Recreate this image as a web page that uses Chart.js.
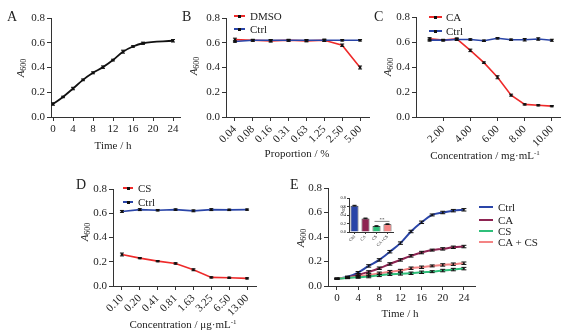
<!DOCTYPE html>
<html>
<head>
<meta charset="utf-8">
<script src="https://cdn.jsdelivr.net/npm/chart.js@4.4.1/dist/chart.umd.min.js"></script>
<style>
body { margin: 0; background: #fff; width: 573px; height: 334px; position: relative; overflow: hidden; font-family: "Liberation Serif", serif; color: #222; }
canvas { position: absolute; left: 0; top: 0; }
.t { position: absolute; white-space: nowrap; font-size: 11px; line-height: 1; }
.letter { font-size: 14px; transform: translateY(-50%); }
.xlab { transform: translate(-50%, -50%); }
.ylab { transform: translate(-50%, -50%) rotate(-90deg); }
.ylab sub { font-size: 8px; vertical-align: -2px; }
.xlab sup { font-size: 7px; vertical-align: 4px; }
.leg { position: absolute; font-size: 11px; line-height: 1; white-space: nowrap; transform: translateY(-50%); }
.ln { position: absolute; height: 2px; }
.ln.mk::after { content: ""; position: absolute; left: 50%; top: 50%; width: 3px; height: 3px; margin: -1.5px 0 0 -1.5px; background: #111; }
</style>
</head>
<body>
<canvas id="cA" width="573" height="334"></canvas>
<canvas id="cB" width="573" height="334"></canvas>
<canvas id="cC" width="573" height="334"></canvas>
<canvas id="cD" width="573" height="334"></canvas>
<canvas id="cE" width="573" height="334"></canvas>
<canvas id="cIn" width="573" height="334"></canvas>

<!-- panel letters -->
<div class="t letter" style="left:7px;top:17px">A</div>
<div class="t letter" style="left:182px;top:17px">B</div>
<div class="t letter" style="left:374px;top:17px">C</div>
<div class="t letter" style="left:76px;top:185px">D</div>
<div class="t letter" style="left:290px;top:185px">E</div>

<!-- y titles -->
<div class="t ylab" style="left:21px;top:68px"><i>A</i><sub>600</sub></div>
<div class="t ylab" style="left:194px;top:66px"><i>A</i><sub>600</sub></div>
<div class="t ylab" style="left:388px;top:67px"><i>A</i><sub>600</sub></div>
<div class="t ylab" style="left:85px;top:232px"><i>A</i><sub>600</sub></div>
<div class="t ylab" style="left:301px;top:238px"><i>A</i><sub>600</sub></div>
<div class="t ylab" style="left:343px;top:210px;font-size:5px"><i>A</i><sub style="font-size:4px;vertical-align:-1px">600</sub></div>

<!-- x titles -->
<div class="t xlab" style="left:113px;top:145px">Time / h</div>
<div class="t xlab" style="left:297px;top:153px">Proportion / %</div>
<div class="t xlab" style="left:485px;top:155px">Concentration / mg·mL<sup>-1</sup></div>
<div class="t xlab" style="left:183px;top:324px">Concentration / μg·mL<sup>-1</sup></div>
<div class="t xlab" style="left:400px;top:313px">Time / h</div>

<!-- legends -->
<div class="leg" style="left:250px;top:16px">DMSO</div><div class="ln mk" style="left:234px;top:15px;width:11px;background:#ee2a2a"></div>
<div class="leg" style="left:250px;top:29px">Ctrl</div><div class="ln mk" style="left:234px;top:28px;width:11px;background:#2a45a8"></div>
<div class="leg" style="left:446px;top:17px">CA</div><div class="ln mk" style="left:429px;top:16px;width:13px;background:#ee2a2a"></div>
<div class="leg" style="left:446px;top:31px">Ctrl</div><div class="ln mk" style="left:429px;top:30px;width:13px;background:#2a45a8"></div>
<div class="leg" style="left:138px;top:188px">CS</div><div class="ln mk" style="left:123px;top:187px;width:10px;background:#ee2a2a"></div>
<div class="leg" style="left:138px;top:202px">Ctrl</div><div class="ln mk" style="left:123px;top:201px;width:10px;background:#2a45a8"></div>
<div class="leg" style="left:498px;top:207px">Ctrl</div><div class="ln" style="left:479px;top:206px;width:14px;background:#2a45a8"></div>
<div class="leg" style="left:498px;top:220px">CA</div><div class="ln" style="left:479px;top:219px;width:14px;background:#8e2452"></div>
<div class="leg" style="left:498px;top:231px">CS</div><div class="ln" style="left:479px;top:230px;width:14px;background:#2fbf7a"></div>
<div class="leg" style="left:498px;top:242px">CA + CS</div><div class="ln" style="left:479px;top:241px;width:14px;background:#f48484"></div>

<script>
// ---- data ----
const yTicks = [0, 0.2, 0.4, 0.6, 0.8];
const timeTicks = [0, 4, 8, 12, 16, 20, 24];

// A: growth curve
const timeA = [0, 2, 4, 6, 8, 10, 12, 14, 16, 18, 24];
const growthA = [0.105, 0.162, 0.23, 0.30, 0.357, 0.403, 0.46, 0.528, 0.57, 0.596, 0.616];
const growthAErr = [0.01, 0.006, 0.01, 0.007, 0.008, 0.01, 0.007, 0.012, 0.006, 0.009, 0.01];

// B: DMSO proportion
const proportionLabels = ['0.04', '0.08', '0.16', '0.31', '0.63', '1.25', '2.50', '5.00'];
const dmsoValues = [0.625, 0.62, 0.615, 0.62, 0.615, 0.62, 0.58, 0.40];
const dmsoCtrl = [0.61, 0.62, 0.62, 0.62, 0.62, 0.62, 0.62, 0.62];
const dmsoErr = [0.012, 0.008, 0.01, 0.008, 0.008, 0.01, 0.01, 0.012];

// C: CA concentration (mg/mL)
const caConc = [1, 2, 3, 4, 5, 6, 7, 8, 9, 10];
const caTicks = [2, 4, 6, 8, 10];
const caValues = [0.625, 0.615, 0.625, 0.533, 0.435, 0.318, 0.175, 0.101, 0.094, 0.087];
const caCtrl = [0.615, 0.615, 0.62, 0.62, 0.61, 0.63, 0.618, 0.618, 0.624, 0.614];
const caErr = [0.01, 0.006, 0.008, 0.01, 0.006, 0.012, 0.008, 0.005, 0.005, 0.005];
const caCtrlErr = [0.008, 0.006, 0.008, 0.006, 0.006, 0.006, 0.006, 0.01, 0.01, 0.008];

// D: CS concentration (ug/mL)
const csLabels = ['0.10', '0.20', '0.41', '0.81', '1.63', '3.25', '6.50', '13.00'];
const csValues = [0.26, 0.23, 0.205, 0.186, 0.134, 0.071, 0.068, 0.063];
const csCtrl = [0.615, 0.63, 0.625, 0.63, 0.62, 0.63, 0.628, 0.63];
const csErr = [0.012, 0.005, 0.005, 0.006, 0.008, 0.005, 0.005, 0.005];
const csCtrlErr = [0.008, 0.008, 0.006, 0.006, 0.008, 0.008, 0.006, 0.005];

// E: growth under treatments
const timeE = [0, 2, 4, 6, 8, 10, 12, 14, 16, 18, 20, 22, 24];
const ctrlE = [0.06, 0.075, 0.11, 0.164, 0.213, 0.28, 0.35, 0.445, 0.52, 0.58, 0.60, 0.615, 0.622];
const caE = [0.06, 0.07, 0.09, 0.115, 0.145, 0.18, 0.213, 0.246, 0.273, 0.293, 0.303, 0.316, 0.322];
const csE = [0.06, 0.066, 0.071, 0.077, 0.087, 0.096, 0.099, 0.104, 0.112, 0.117, 0.126, 0.134, 0.142];
const cacsE = [0.06, 0.068, 0.077, 0.09, 0.104, 0.117, 0.126, 0.145, 0.153, 0.164, 0.172, 0.178, 0.186];
const errE = [0.004, 0.006, 0.008, 0.01, 0.01, 0.01, 0.01, 0.01, 0.01, 0.008, 0.01, 0.01, 0.01];

// E inset: endpoint bars
const insetLabels = ['Ctrl', 'CA', 'CS', 'CA+CS'];
const insetValues = [0.62, 0.32, 0.14, 0.185];
const insetErr = [0.008, 0.008, 0.008, 0.008];
const insetColors = ['#2a45a8', '#8e2452', '#2fbf7a', '#f48484'];

// ---- helpers ----
const W = 573, H = 334;
const RED = '#ee2a2a', BLUE = '#2a45a8';
const tickFont = { family: 'Liberation Serif', size: 11 };

const errorBars = {
    id: 'errorBars',
    afterDatasetsDraw(chart) {
        const ctx = chart.ctx;
        const ys = chart.scales.y;
        chart.data.datasets.forEach((ds, i) => {
            if (!ds.errors) return;
            const meta = chart.getDatasetMeta(i);
            ctx.save();
            ctx.strokeStyle = '#111';
            ctx.lineWidth = 1;
            meta.data.forEach((el, j) => {
                const d = ds.data[j];
                const v = typeof d === 'object' ? d.y : d;
                const e = ds.errors[j];
                const top = ys.getPixelForValue(v + e);
                const bot = ys.getPixelForValue(v - e);
                const cap = ds.capWidth || 2;
                ctx.beginPath();
                ctx.moveTo(el.x, top); ctx.lineTo(el.x, bot);
                ctx.moveTo(el.x - cap, top); ctx.lineTo(el.x + cap, top);
                ctx.moveTo(el.x - cap, bot); ctx.lineTo(el.x + cap, bot);
                ctx.stroke();
            });
            ctx.restore();
        });
    }
};

function xy(xs, ys) {
    return ys.map((v, i) => ({ x: xs[i], y: v }));
}

function axisStyle(extra) {
    return Object.assign({
        border: { color: '#333', width: 1 },
        grid: { display: true, drawOnChartArea: false, drawTicks: true, tickLength: 4, color: '#333' },
        ticks: { color: '#222', font: tickFont, padding: 2 }
    }, extra);
}

// builds chart with plot area fixed at page coords l,t,r,b
function panel(id, area, type, datasets, xScale, labels, plugins) {
    const [l, t, r, b] = area;
    const yScale = axisStyle({
        min: 0, max: 0.8,
        afterFit: s => { s.width = l; },
        afterBuildTicks: s => { s.ticks = yTicks.map(v => ({ value: v })); }
    });
    yScale.ticks.callback = v => v.toFixed(1);
    xScale.afterFit = s => { s.height = H - b; };
    return new Chart(document.getElementById(id), {
        type: type,
        data: { labels: labels, datasets: datasets },
        options: {
            responsive: false,
            animation: false,
            layout: { padding: { left: 0, top: t, right: W - r, bottom: 0 } },
            plugins: { legend: { display: false }, tooltip: { enabled: false } },
            scales: { x: xScale, y: yScale }
        },
        plugins: [errorBars].concat(plugins || [])
    });
}

function lineSet(data, color, errors, extra) {
    return Object.assign({
        data: data,
        borderColor: color,
        borderWidth: 1.6,
        pointStyle: 'rect',
        pointRadius: 1.6,
        pointBackgroundColor: '#111',
        pointBorderColor: '#111',
        pointBorderWidth: 0,
        tension: 0,
        errors: errors
    }, extra);
}

function rotatedCategory() {
    const s = axisStyle({ type: 'category', offset: true });
    s.ticks.minRotation = 45;
    s.ticks.maxRotation = 45;
    s.ticks.autoSkip = false;
    s.grid.offset = false;
    return s;
}

// A
(() => {
    const x = axisStyle({
        type: 'linear', min: -0.4, max: 25.4,
        afterBuildTicks: s => { s.ticks = timeTicks.map(v => ({ value: v })); }
    });
    panel('cA', [51, 18, 180, 117], 'line', [
        lineSet(xy(timeA, growthA), '#111', growthAErr, { cubicInterpolationMode: 'monotone', borderWidth: 1.8 })
    ], x);
})();

// B
panel('cB', [226, 18, 369, 117], 'line', [
    lineSet(dmsoCtrl, BLUE, dmsoErr.map(() => 0.006)),
    lineSet(dmsoValues, RED, dmsoErr)
], rotatedCategory(), proportionLabels);

// C
(() => {
    const x = axisStyle({
        type: 'linear', min: 0, max: 10.6,
        afterBuildTicks: s => { s.ticks = caTicks.map(v => ({ value: v })); }
    });
    x.ticks.minRotation = 45;
    x.ticks.maxRotation = 45;
    x.ticks.callback = v => v.toFixed(2);
    panel('cC', [416, 17, 560, 117], 'line', [
        lineSet(xy(caConc, caCtrl), BLUE, caCtrlErr),
        lineSet(xy(caConc, caValues), RED, caErr)
    ], x);
})();

// D
panel('cD', [113, 189, 256, 286], 'line', [
    lineSet(csCtrl, BLUE, csCtrlErr),
    lineSet(csValues, RED, csErr)
], rotatedCategory(), csLabels);

// E
(() => {
    const x = axisStyle({
        type: 'linear', min: -1.7, max: 26.1,
        afterBuildTicks: s => { s.ticks = timeTicks.map(v => ({ value: v })); }
    });
    const opt = { cubicInterpolationMode: 'monotone', borderWidth: 2, pointRadius: 1, capWidth: 2.5 };
    panel('cE', [328, 188, 475, 286], 'line', [
        lineSet(xy(timeE, csE), '#2fbf7a', errE, opt),
        lineSet(xy(timeE, cacsE), '#f48484', errE, opt),
        lineSet(xy(timeE, caE), '#8e2452', errE, opt),
        lineSet(xy(timeE, ctrlE), BLUE, errE, opt)
    ], x);
})();

// E inset
(() => {
    const small = { family: 'Liberation Serif', size: 4.5 };
    const sig = {
        id: 'sig',
        afterDraw(chart) {
            const ctx = chart.ctx, xs = chart.scales.x, ys = chart.scales.y;
            const y = ys.getPixelForValue(0.25);
            ctx.save();
            ctx.strokeStyle = '#333';
            ctx.lineWidth = 0.6;
            ctx.beginPath();
            ctx.moveTo(xs.getPixelForValue(2) - 2, y);
            ctx.lineTo(xs.getPixelForValue(3) + 2, y);
            ctx.stroke();
            ctx.fillStyle = '#222';
            ctx.font = '5px "Liberation Serif"';
            ctx.textAlign = 'center';
            ctx.fillText('**', (xs.getPixelForValue(2) + xs.getPixelForValue(3)) / 2, y - 0.5);
            ctx.restore();
        }
    };
    const x = axisStyle({ type: 'category', offset: true });
    x.grid.tickLength = 2;
    x.grid.offset = false;
    x.ticks = { color: '#222', font: small, padding: 0, minRotation: 45, maxRotation: 45, autoSkip: false };
    const ch = panel('cIn', [349, 198, 393, 232], 'bar', [{
        data: insetValues,
        backgroundColor: insetColors,
        borderColor: '#111',
        borderWidth: 0.8,
        barPercentage: 0.72,
        categoryPercentage: 1,
        errors: insetErr,
        capWidth: 2
    }], x, insetLabels, [sig]);
    ch.options.scales.y.ticks.font = small;
    ch.options.scales.y.ticks.padding = 1;
    ch.options.scales.y.grid.tickLength = 2;
    ch.update();
})();
</script>
</body>
</html>
